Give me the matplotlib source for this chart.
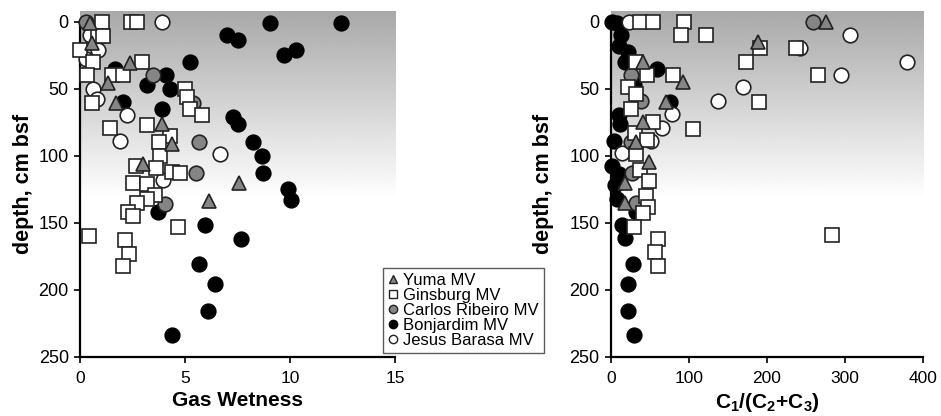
import numpy as np
import matplotlib
matplotlib.use('Agg')
import matplotlib.pyplot as plt
from matplotlib.lines import Line2D

plt.rcParams['font.family'] = ['Liberation Sans', 'DejaVu Sans']
plt.rcParams['mathtext.fontset'] = 'custom'
plt.rcParams['mathtext.rm'] = 'Liberation Sans:bold'
plt.rcParams['mathtext.bf'] = 'Liberation Sans:bold'
plt.rcParams['mathtext.default'] = 'bf'

# ---------------- data: (value, depth cm bsf) ----------------
# Gas Wetness panel
yuma_gw = [0.48, 0.56, 2.38, 1.35, 1.71, 3.89, 4.37, 2.98, 7.57, 6.16]
yuma_gw_d = [1, 16, 31, 46, 61, 76, 91, 106, 120, 134]

gins_gw = [1.03, 2.43, 2.7, 0.85, 1.1, 0.0, 0.63, 2.94, 0.35, 1.5, 2.06, 0.56,
           5.0, 5.08, 5.24, 5.8, 1.43, 3.17, 4.29, 3.78, 3.81, 2.67, 3.62, 4.37,
           4.76, 2.51, 3.17, 3.57, 3.17, 2.7, 2.3, 2.54, 4.68, 0.44, 2.14, 2.35, 2.06]
gins_gw_d = [0, 0, 0, 11, 11, 21, 30, 30, 40, 40, 40, 61,
             50, 56, 65, 70, 79, 77, 85, 90, 100, 108, 109, 112,
             113, 120, 121, 129, 132, 135, 142, 145, 153, 160, 163, 173, 182]

carl_gw = [0.29, 3.46, 5.37, 5.67, 5.51, 4.06]
carl_gw_d = [0, 40, 61, 90, 113, 136]

bonj_gw = [12.4, 9.05, 7.0, 7.5, 10.3, 9.7, 5.24, 1.65, 4.08, 3.17, 4.3, 2.06,
           3.92, 7.3, 7.54, 8.25, 8.65, 8.73, 9.92, 10.03, 3.7, 5.95, 7.67,
           5.67, 6.43, 6.11, 4.37]
bonj_gw_d = [1, 1, 10, 14, 21, 25, 30, 35, 40, 47, 50, 60,
             65, 71, 76, 90, 100, 113, 125, 133, 142, 152, 162,
             181, 196, 216, 234]

jesus_gw = [3.92, 0.48, 0.85, 0.3, 0.63, 0.8, 2.25, 1.92, 6.65, 3.97]
jesus_gw_d = [0, 10, 21, 28, 50, 58, 70, 89, 99, 118]

# C1/(C2+C3) panel
yuma_c = [276, 189, 41, 92, 71, 41, 32, 49, 18, 18]
yuma_c_d = [0, 15, 30, 45, 60, 75, 90, 105, 120, 135]

gins_c = [37, 54, 94, 90, 122, 191, 237, 173, 32, 47, 80, 265, 22, 33, 190,
          26, 54, 106, 31, 46, 32, 37, 49, 45, 48, 41, 30, 60, 57, 61, 283]
gins_c_d = [0, 0, 0, 10, 10, 20, 20, 30, 30, 40, 40, 40, 49, 54, 60,
            65, 75, 80, 83, 88, 99, 111, 119, 130, 138, 143, 153, 162, 172, 182, 159]

carl_c = [259, 26, 39, 26, 27, 33]
carl_c_d = [0, 40, 59, 90, 113, 135]

bonj_c = [2, 8, 13, 10, 22, 18, 59, 30, 76, 10, 12, 4, 2, 11, 6, 8, 33,
          15, 18, 28, 22, 22, 30]
bonj_c_d = [0, 1, 10, 18, 23, 30, 35, 47, 60, 70, 76, 89, 108, 114, 122, 132, 142,
            152, 161, 181, 196, 216, 234]

jesus_c = [24, 306, 243, 379, 295, 170, 138, 79, 66, 51, 14]
jesus_c_d = [0, 10, 20, 30, 40, 49, 59, 69, 79, 89, 98]

labels = ['Yuma MV', 'Ginsburg MV', 'Carlos Ribeiro MV', 'Bonjardim MV', 'Jesus Barasa MV']

# ---------------- styles ----------------
GRAY = '#858585'
sty = {
    'Bonjardim MV': dict(marker='o', mfc='black', mec='black', ms=10.5),
    'Jesus Barasa MV': dict(marker='o', mfc='white', mec='#222222', ms=10.5),
    'Carlos Ribeiro MV': dict(marker='o', mfc=GRAY, mec='#222222', ms=10.5),
    'Ginsburg MV': dict(marker='s', mfc='white', mec='#222222', ms=10.5),
    'Yuma MV': dict(marker='^', mfc=GRAY, mec='#222222', ms=10.5),
}

fig = plt.figure(figsize=(9.41, 4.16), dpi=100)
ax1 = fig.add_axes([0.085, 0.142, 0.335, 0.832])
ax2 = fig.add_axes([0.649, 0.142, 0.332, 0.832])

panels = [
    (ax1, 15, [0, 5, 10, 15], 'Gas Wetness', 3,
     {'Yuma MV': (yuma_gw, yuma_gw_d), 'Ginsburg MV': (gins_gw, gins_gw_d),
      'Carlos Ribeiro MV': (carl_gw, carl_gw_d), 'Bonjardim MV': (bonj_gw, bonj_gw_d),
      'Jesus Barasa MV': (jesus_gw, jesus_gw_d)}),
    (ax2, 400, [0, 100, 200, 300, 400], r'C$_1$/(C$_2$+C$_3$)', 11,
     {'Yuma MV': (yuma_c, yuma_c_d), 'Ginsburg MV': (gins_c, gins_c_d),
      'Carlos Ribeiro MV': (carl_c, carl_c_d), 'Bonjardim MV': (bonj_c, bonj_c_d),
      'Jesus Barasa MV': (jesus_c, jesus_c_d)}),
]

draw_order = ['Bonjardim MV', 'Jesus Barasa MV', 'Carlos Ribeiro MV', 'Ginsburg MV', 'Yuma MV']

for ax, xmax, xt, xlab, ypad, series in panels:
    ytop = -8
    # gray-to-white gradient background
    grad = np.clip(0.66 + (np.linspace(ytop, 250, 300) - ytop) / 140 * 0.34, 0, 1)
    ax.imshow(np.tile(grad[:, None], (1, 2)), cmap='gray', vmin=0, vmax=1,
              extent=[0, xmax, 250, ytop], aspect='auto', zorder=0, interpolation='bilinear')
    for name in draw_order:
        xs, ds = series[name]
        ax.plot(xs, ds, ls='none', mew=1.2, zorder=3, clip_on=False, **sty[name])
    ax.set_xlim(0, xmax)
    ax.set_ylim(250, ytop)
    ax.set_xticks(xt)
    ax.set_yticks([0, 50, 100, 150, 200, 250])
    for s in ['top', 'right']:
        ax.spines[s].set_visible(False)
    ax.spines['left'].set_bounds(0, 250)
    ax.spines['left'].set_linewidth(1.6)
    ax.spines['bottom'].set_linewidth(1.6)
    ax.tick_params(axis='both', width=1.2, length=4, direction='out', pad=4)
    ax.tick_params(axis='x', labelsize=12.5, pad=6)
    ax.tick_params(axis='y', labelsize=13)
    ax.set_xlabel(xlab, fontsize=15, fontweight='bold', labelpad=4)
    ax.set_ylabel('depth, cm bsf', fontsize=15.5, fontweight='bold', labelpad=ypad)

handles = [Line2D([], [], ls='none', marker=sty[n]['marker'], mfc=sty[n]['mfc'],
                  mec=sty[n]['mec'], ms=6, mew=1) for n in labels]
leg = fig.legend(handles, labels, loc='lower left', bbox_to_anchor=(0.407, 0.152),
                 fontsize=12, frameon=True, fancybox=False, borderaxespad=0,
                 handlelength=0.6, handletextpad=0.3, labelspacing=0.0,
                 borderpad=0.3)
leg.get_frame().set_edgecolor('#333333')
leg.get_frame().set_linewidth(1.0)

fig.savefig('out.png', dpi=100)
